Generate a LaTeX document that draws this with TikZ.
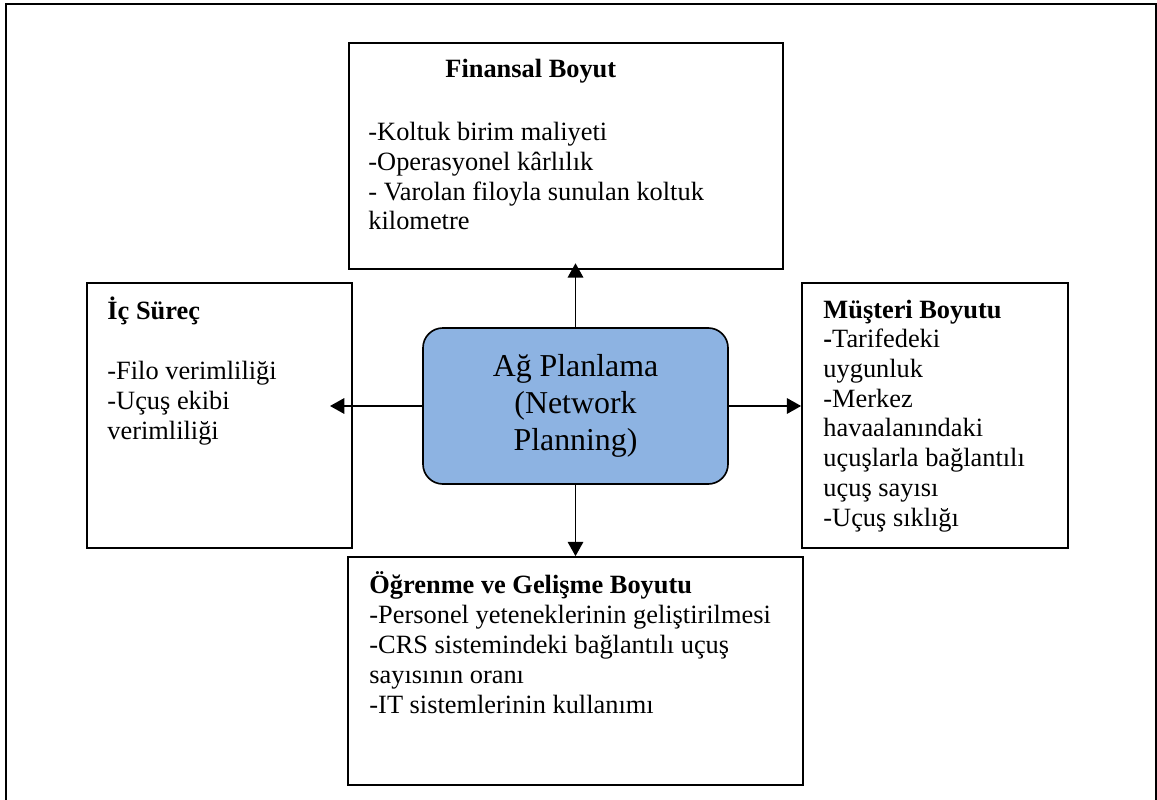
\documentclass[tikz,border=0pt]{standalone}
\usepackage{fontspec}
\setmainfont{Liberation Serif}
\usetikzlibrary{arrows.meta}
\definecolor{ctrfill}{RGB}{141,179,226}
\begin{document}
\begin{tikzpicture}[x=0.455pt,y=-0.455pt,
  box/.style={draw=black, line width=0.75pt, inner sep=0pt, fill=white},
  txt/.style={anchor=base west, align=left, inner sep=0pt, font=\fontsize{12}{13.5}\selectfont},
  ttl/.style={anchor=base west, align=left, inner sep=0pt, font=\fontsize{12}{13.5}\selectfont\bfseries},
  arr/.style={line width=0.9pt, -{Triangle[length=6.5pt,width=7pt]}}]
\useasboundingbox (0,0) rectangle (1157,800);
\draw[line width=1pt] (6,810) -- (6,4) -- (1156,4) -- (1156,810);

% boxes
\node[box, minimum width={434*0.455pt}, minimum height={226*0.455pt}] (fin) at (566,156) {};
\node[box, minimum width={265*0.455pt}, minimum height={265*0.455pt}] (ic) at (219.5,415.5) {};
\node[box, minimum width={266*0.455pt}, minimum height={265*0.455pt}] (mus) at (935,415.5) {};
\node[box, minimum width={455*0.455pt}, minimum height={228*0.455pt}] (og) at (575.5,671) {};
\node[box, fill=ctrfill, rounded corners=9pt, minimum width={305*0.455pt}, minimum height={156*0.455pt},
      align=center, font=\fontsize{14.5}{17}\selectfont] (ctr) at (575.5,406)
      {Ağ Planlama\\(Network\\Planning)};

% texts (multi-line nodes are placed by the baseline of their last line)
\node[ttl] (finT) at (445,78) {Finansal Boyut};
\node[txt] (finI) at (368,230) {-Koltuk birim maliyeti\\-Operasyonel kârlılık\\- Varolan filoyla sunulan koltuk\\kilometre};
\node[ttl] (icT) at (107,320) {İç Süreç};
\node[txt] (icI) at (107,439) {-Filo verimliliği\\-Uçuş ekibi\\verimliliği};
\node[ttl] (musT) at (823,318) {Müşteri Boyutu};
\node[txt] (musI) at (823,526) {\textbf{-}Tarifedeki\\uygunluk\\-Merkez\\havaalanındaki\\uçuşlarla bağlantılı\\uçuş sayısı\\-Uçuş sıklığı};
\node[ttl] (ogT) at (369,593) {Öğrenme ve Gelişme Boyutu};
\node[txt] (ogI) at (369,713) {-Personel yeteneklerinin geliştirilmesi\\-CRS sistemindeki bağlantılı uçuş\\sayısının oranı\\-IT sistemlerinin kullanımı};

% connectors
\coordinate (ltip) at (330,406);
\draw[arr, shorten >=-3pt] (ctr.north) -- (ctr.north |- fin.south);
\draw[arr] (ctr.south) -- (ctr.south |- og.north);
\draw[arr] (ctr.east) -- (ctr.east -| mus.west);
\draw[arr] (ctr.west) -- (ltip);
\end{tikzpicture}
\end{document}
